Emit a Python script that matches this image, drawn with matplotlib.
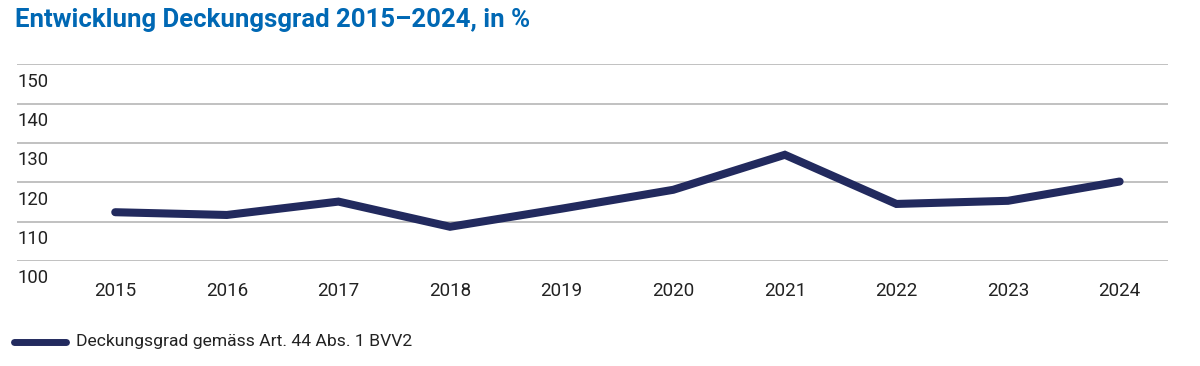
import matplotlib
matplotlib.use('Agg')
import matplotlib.pyplot as plt
from matplotlib.lines import Line2D

plt.rcParams['font.family'] = ['Roboto', 'DejaVu Sans']

# ── Daten ──
years = [2015, 2016, 2017, 2018, 2019, 2020, 2021, 2022, 2023, 2024]
deckungsgrad = [112.4, 111.7, 115.1, 108.7, 113.3, 118.1, 127.0, 114.5, 115.3, 120.2]
yticks = [100, 110, 120, 130, 140, 150]
series_label = 'Deckungsgrad gemäss Art. 44 Abs. 1 BVV2'
title = 'Entwicklung Deckungsgrad 2015–2024, in %'

navy = '#222a5e'
txt = '#222222'

fig = plt.figure(figsize=(12, 3.66), dpi=100)
ax = fig.add_axes([0.0142, 0.2869, 0.9588, 0.5374])

ax.set_xlim(2014.12, 2024.43)
ax.set_ylim(100, 150)

# Gitterlinien + Beschriftung unterhalb der Linie
for v in yticks:
    ax.axhline(v, color='#b0b0b0', lw=1.1, zorder=1)
    ax.annotate(str(v), (0, v), xycoords=('axes fraction', 'data'),
                xytext=(0, -6), textcoords='offset points',
                ha='left', va='top', fontsize=13.3, color=txt)

ax.plot(years, deckungsgrad, color=navy, lw=5.8, solid_capstyle='round',
        solid_joinstyle='miter', zorder=3)

ax.set_xticks(years)
ax.set_xticklabels([str(y) for y in years], fontsize=13.5, color=txt)
ax.tick_params(axis='x', length=0, pad=15)
ax.set_yticks([])
for s in ax.spines.values():
    s.set_visible(False)
ax.patch.set_alpha(0)

fig.text(0.0125, 0.945, title, fontsize=18.5, fontweight='bold',
         color='#0068b4', ha='left', va='center')

# Legende
leg_line = Line2D([0.012, 0.055], [0.066, 0.066], transform=fig.transFigure,
                  color=navy, lw=5, solid_capstyle='round')
fig.add_artist(leg_line)
fig.text(0.063, 0.066, series_label, fontsize=12.6, color=txt,
         ha='left', va='center')

fig.savefig('out.png', dpi=100, facecolor='white')
